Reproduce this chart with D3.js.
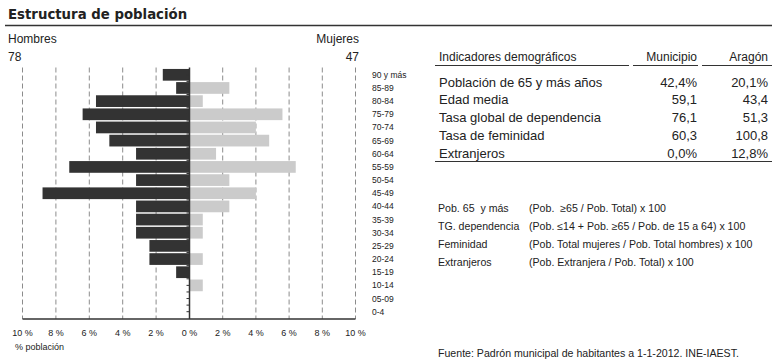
<!DOCTYPE html>
<html>
<head>
<meta charset="utf-8">
<script src="https://cdn.jsdelivr.net/npm/d3@7"></script>
<style>
  html, body { margin: 0; padding: 0; background: #fff; }
  svg { display: block; font-family: "Liberation Sans", Arial, sans-serif; }
</style>
</head>
<body>
<svg id="chart" width="780" height="360"></svg>
<script>
// ---- data ----
const ageGroups = ["90 y más","85-89","80-84","75-79","70-74","65-69","60-64","55-59","50-54","45-49","40-44","35-39","30-34","25-29","20-24","15-19","10-14","05-09","0-4"];
const hombresPct = [1.6,0.8,5.6,6.4,5.6,4.8,3.2,7.2,3.2,8.8,3.2,3.2,3.2,2.4,2.4,0.8,0,0,0];
const mujeresPct = [0,2.4,0.8,5.6,4.0,4.8,1.6,6.4,2.4,4.0,2.4,0.8,0.8,0,0.8,0,0.8,0,0];
const totalHombres = 78;
const totalMujeres = 47;
const xTicks = [0,2,4,6,8,10];

const indicadores = ["Población de 65 y más años","Edad media","Tasa global de dependencia","Tasa de feminidad","Extranjeros"];
const municipio = ["42,4%","59,1","76,1","60,3","0,0%"];
const aragon = ["20,1%","43,4","51,3","100,8","12,8%"];

const formulaNames = ["Pob. 65  y más","TG. dependencia","Feminidad","Extranjeros"];
const formulas = ["(Pob.  ≥65 / Pob. Total) x 100","(Pob. ≤14 + Pob. ≥65 / Pob. de 15 a 64) x 100","(Pob. Total mujeres / Pob. Total hombres) x 100","(Pob. Extranjera / Pob. Total) x 100"];
const fuente = "Fuente: Padrón municipal de habitantes a 1-1-2012. INE-IAEST.";

// ---- drawing ----
const svg = d3.select("#chart");
const dark = "#333333", light = "#cbcbcb", txt = "#222";

// title
svg.append("text").attr("x", 8).attr("y", 19)
  .attr("font-family", "DejaVu Sans, Verdana, sans-serif")
  .attr("font-weight", "bold").attr("font-size", 13.3).attr("fill", txt)
  .text("Estructura de población");
svg.append("line").attr("x1", 5).attr("x2", 772).attr("y1", 25.5).attr("y2", 25.5)
  .attr("stroke", dark).attr("stroke-width", 1.5);

// pyramid scales
const cx = 189.5, plotTop = 67.5, plotBottom = 319;
const xL = d3.scaleLinear().domain([0, 10]).range([cx, 22.5]);
const xR = d3.scaleLinear().domain([0, 10]).range([cx, 355.5]);
const y = d3.scaleBand().domain(ageGroups).range([plotTop, plotBottom]).padding(0.11);

// gridlines
const g = svg.append("g");
xTicks.filter(t => t > 0).forEach(t => {
  [xL(t), xR(t)].forEach(xx => {
    g.append("line").attr("x1", xx).attr("x2", xx).attr("y1", plotTop).attr("y2", plotBottom)
      .attr("stroke", "#8c8c8c").attr("stroke-width", 1).attr("stroke-dasharray", "5,3");
  });
});

// bars
g.selectAll("rect.m").data(ageGroups).join("rect").attr("class", "m")
  .attr("x", (d, i) => xL(hombresPct[i])).attr("y", d => y(d))
  .attr("width", (d, i) => xL(0) - xL(hombresPct[i])).attr("height", y.bandwidth())
  .attr("fill", dark);
g.selectAll("rect.f").data(ageGroups).join("rect").attr("class", "f")
  .attr("x", cx + 0.5).attr("y", d => y(d))
  .attr("width", (d, i) => Math.max(0, xR(mujeresPct[i]) - cx - 0.5)).attr("height", y.bandwidth())
  .attr("fill", light);

// center axis with ticks at band centers and boundaries
const step = y.step();
const tickYs = [];
ageGroups.forEach(a => {
  tickYs.push(y(a) + y.bandwidth() / 2);
  tickYs.push(y(a) + y.bandwidth() / 2 + step / 2);
});
tickYs.forEach(ty => {
  if (ty < plotBottom - 1) g.append("line").attr("x1", cx - 3).attr("x2", cx).attr("y1", ty).attr("y2", ty)
    .attr("stroke", dark).attr("stroke-width", 1);
});
g.append("line").attr("x1", cx).attr("x2", cx).attr("y1", plotTop).attr("y2", plotBottom)
  .attr("stroke", dark).attr("stroke-width", 1.5);

// bottom axis
g.append("line").attr("x1", xL(10)).attr("x2", xR(10)).attr("y1", plotBottom).attr("y2", plotBottom)
  .attr("stroke", dark).attr("stroke-width", 1.5);
const tickLabels = [];
xTicks.forEach(t => tickLabels.push({x: xL(t), t}));
xTicks.filter(t => t > 0).forEach(t => tickLabels.push({x: xR(t), t}));
g.selectAll("text.xt").data(tickLabels).join("text").attr("class", "xt")
  .attr("x", d => d.x).attr("y", 336).attr("text-anchor", "middle")
  .attr("font-size", 9).attr("fill", txt).text(d => d.t + " %");
svg.append("text").attr("x", 15).attr("y", 350).attr("font-size", 9).attr("fill", txt).text("% población");

// age labels
g.selectAll("text.age").data(ageGroups).join("text").attr("class", "age")
  .attr("x", 372).attr("y", d => y(d) + y.bandwidth() / 2 + 3)
  .attr("font-size", 8.5).attr("fill", txt).text(d => d);

// Hombres / Mujeres
svg.append("text").attr("x", 8).attr("y", 43).attr("font-size", 12).attr("fill", txt).text("Hombres");
svg.append("text").attr("x", 8).attr("y", 61).attr("font-size", 12).attr("fill", txt).text(totalHombres);
svg.append("text").attr("x", 359).attr("y", 43).attr("font-size", 12).attr("fill", txt).attr("text-anchor", "end").text("Mujeres");
svg.append("text").attr("x", 359).attr("y", 61).attr("font-size", 12).attr("fill", txt).attr("text-anchor", "end").text(totalMujeres);

// table
const t = svg.append("g").attr("font-size", 12).attr("fill", txt);
t.append("text").attr("x", 439).attr("y", 61).text("Indicadores demográficos");
t.append("text").attr("x", 697).attr("y", 61).attr("text-anchor", "end").text("Municipio");
t.append("text").attr("x", 768).attr("y", 61).attr("text-anchor", "end").text("Aragón");
[[435, 629], [633, 698], [702, 772]].forEach(([a, b]) => {
  t.append("line").attr("x1", a).attr("x2", b).attr("y1", 65.5).attr("y2", 65.5).attr("stroke", dark).attr("stroke-width", 1);
});
const rowY = d3.scalePoint().domain(indicadores).range([86.5, 158]);
indicadores.forEach((name, i) => {
  t.append("text").attr("x", 439).attr("y", rowY(name)).attr("font-size", 13).text(name);
  t.append("text").attr("x", 697).attr("y", rowY(name)).attr("font-size", 13).attr("text-anchor", "end").text(municipio[i]);
  t.append("text").attr("x", 768).attr("y", rowY(name)).attr("font-size", 13).attr("text-anchor", "end").text(aragon[i]);
});
t.append("line").attr("x1", 435).attr("x2", 772).attr("y1", 161.5).attr("y2", 161.5).attr("stroke", dark).attr("stroke-width", 1);

// formulas
const f = svg.append("g").attr("font-size", 10.6).attr("fill", txt);
const fy = d3.scalePoint().domain(formulaNames).range([212, 266]);
formulaNames.forEach((n, i) => {
  f.append("text").attr("x", 438).attr("y", fy(n)).style("white-space", "pre").text(n);
  f.append("text").attr("x", 529).attr("y", fy(n)).style("white-space", "pre").text(formulas[i]);
});
f.append("text").attr("x", 438).attr("y", 356.5).text(fuente);
</script>
</body>
</html>
